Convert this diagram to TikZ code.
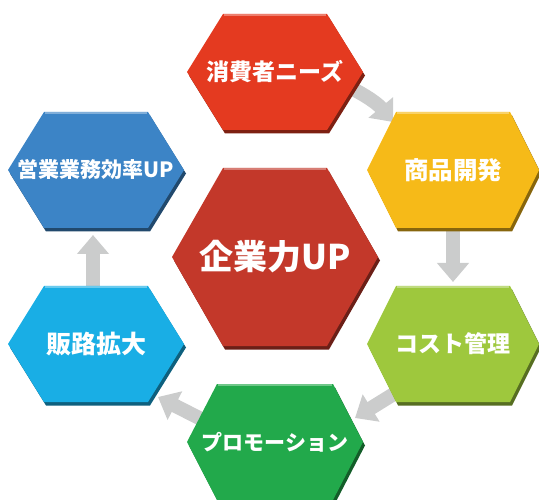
\documentclass[tikz,border=0pt]{standalone}
\usepackage{fontspec}
\newfontfamily\jpfont{Noto Sans CJK JP}
\usetikzlibrary{arrows.meta,calc}

\definecolor{needsred}{HTML}{E43A20}
\definecolor{devyellow}{HTML}{F6BA18}
\definecolor{costgreen}{HTML}{9EC83D}
\definecolor{promogreen}{HTML}{22A94B}
\definecolor{salescyan}{HTML}{19AEE5}
\definecolor{effblue}{HTML}{3C84C6}
\definecolor{corered}{HTML}{C3382A}
\definecolor{flowgray}{HTML}{CBCCCC}

\tikzset{
  lbl/.style={text=white,font=\jpfont\bfseries\fontsize{#1}{#1}\selectfont,inner sep=0pt},
  lbl/.default=21,
  flow/.style={draw=flowgray,line width=14pt,-{Triangle[width=31pt,length=19pt]}}
}

% #1 name, #2 centre, #3 colour, #4 half width, #5 half top edge, #6 half height, #7 label style, #8 text
\newcommand{\hexbox}[8]{
  \fill[#3!55!black] ($(#2)+(2,3.5)$) ++(-#4,0) -- ++({#4-#5},-#6) -- ++({2*#5},0)
    -- ++({#4-#5},#6) -- ++({#5-#4},#6) -- ++({-2*#5},0) -- cycle;
  \fill[#3] (#2) ++(-#4,0) -- ++({#4-#5},-#6) -- ++({2*#5},0)
    -- ++({#4-#5},#6) -- ++({#5-#4},#6) -- ++({-2*#5},0) -- cycle;
  \draw[white,opacity=.35,line width=2pt] ($(#2)+({-#5+1},{-#6+1})$) -- ($(#2)+({#5-1},{-#6+1})$);
  \node[#7] (#1) at (#2) {#8};
}

\begin{document}
\begin{tikzpicture}[x=1pt,y=-1pt]
\useasboundingbox (0,0) rectangle (539,500);

% centres
\coordinate (cN) at (275,72);
\coordinate (cD) at (453,170);
\coordinate (cC) at (453,344);
\coordinate (cP) at (275,442);
\coordinate (cS) at (96,344);
\coordinate (cE) at (96,170);
\coordinate (cK) at (275,257);

% arrows (behind the hexagons)
\draw[flow] ($(cN)+(72,14)$) to[bend left=12] ($(cD)+(-60,-48)$);
\draw[flow] ($(cD)+(0,56)$) -- ($(cC)+(0,-62)$);
\draw[flow] ($(cC)+(-56,48)$) -- ($(cP)+(80,-24)$);
\draw[flow] ($(cP)+(-70,-21)$) -- ($(cS)+(62,53)$);
\draw[flow] ($(cS)+(-3,-56)$) -- ($(cE)+(-3,65)$);

% hexagons
\hexbox{needs}{cN}{needsred}{88}{52}{58}{lbl=23}{消費者ニーズ}
\hexbox{dev}{cD}{devyellow}{86}{57}{58}{lbl=24.5}{商品開発}
\hexbox{cost}{cC}{costgreen}{86}{57}{58}{lbl=23}{コスト管理}
\hexbox{promo}{cP}{promogreen}{88}{58}{58}{lbl=21}{プロモーション}
\hexbox{sales}{cS}{salescyan}{88}{52}{58}{lbl=25}{販路拡大}
\hexbox{eff}{cE}{effblue}{88}{52}{58}{lbl=21}{営業業務効率UP}
\hexbox{core}{cK}{corered}{103}{52}{89}{lbl=34}{企業力UP}
\end{tikzpicture}
\end{document}
